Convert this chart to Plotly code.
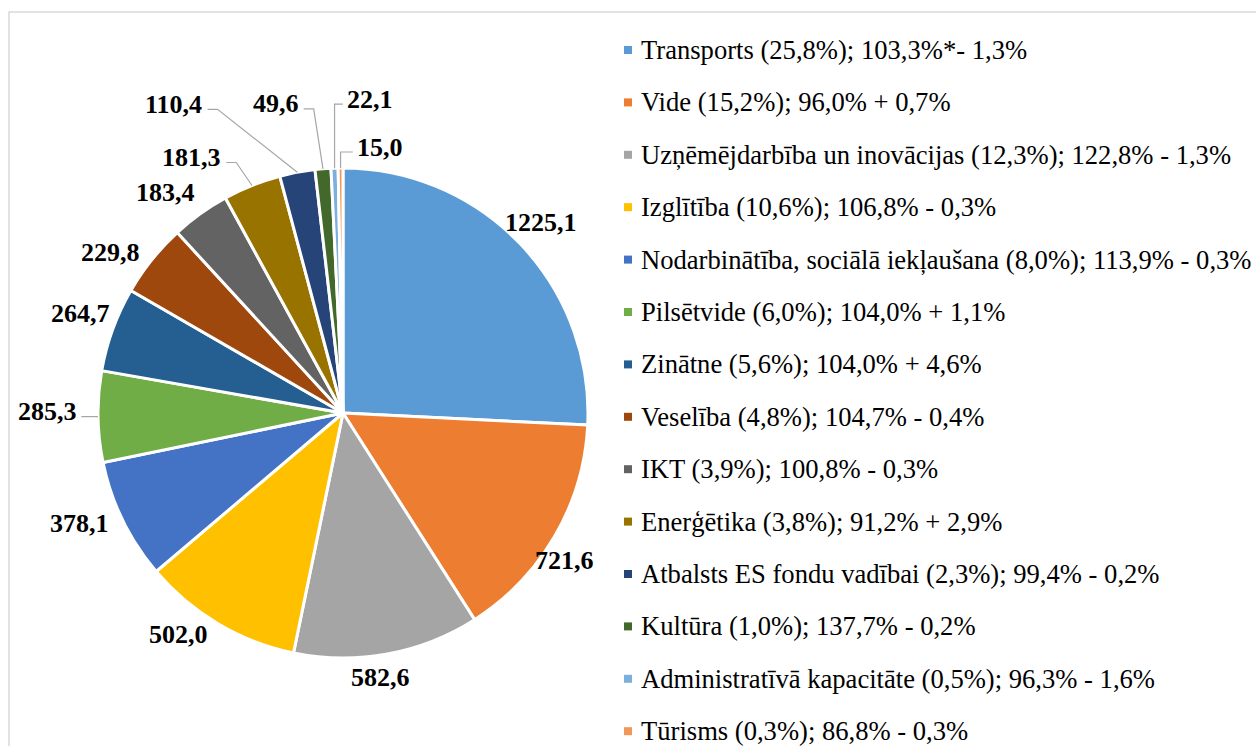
import math
import plotly.graph_objects as go

# ---------------- data ----------------
categories = [
    "Transports", "Vide", "Uzņēmējdarbība un inovācijas", "Izglītība",
    "Nodarbinātība, sociālā iekļaušana", "Pilsētvide", "Zinātne", "Veselība",
    "IKT", "Enerģētika", "Atbalsts ES fondu vadībai", "Kultūra",
    "Administratīvā kapacitāte", "Tūrisms",
]
values = [1225.1, 721.6, 582.6, 502.0, 378.1, 285.3, 264.7, 229.8,
          183.4, 181.3, 110.4, 49.6, 22.1, 15.0]
legend_labels = [
    "Transports (25,8%); 103,3%*- 1,3%",
    "Vide (15,2%); 96,0% + 0,7%",
    "Uzņēmējdarbība un inovācijas (12,3%); 122,8% - 1,3%",
    "Izglītība (10,6%); 106,8% - 0,3%",
    "Nodarbinātība, sociālā iekļaušana (8,0%); 113,9% - 0,3%",
    "Pilsētvide (6,0%); 104,0% + 1,1%",
    "Zinātne (5,6%); 104,0% + 4,6%",
    "Veselība (4,8%); 104,7% - 0,4%",
    "IKT (3,9%); 100,8% - 0,3%",
    "Enerģētika (3,8%); 91,2% + 2,9%",
    "Atbalsts ES fondu vadībai (2,3%); 99,4% - 0,2%",
    "Kultūra (1,0%); 137,7% - 0,2%",
    "Administratīvā kapacitāte (0,5%); 96,3% - 1,6%",
    "Tūrisms (0,3%); 86,8% - 0,3%",
]

# ---------------- style ----------------
colors = ["#5B9BD5", "#ED7D31", "#A5A5A5", "#FFC000", "#4472C4", "#70AD47",
          "#255E91", "#9E480E", "#636363", "#997300", "#264478", "#43682B",
          "#7CAFDD", "#F1975A"]
W, H = 1256, 746
CX, CY, R = 343, 413, 245
FONT = "Liberation Serif"
LABEL_FS = 26
LEGEND_FS = 26.6
# label offsets (px) from slice's outer mid point, and leader-line flag
label_offsets = [(21, -22), (10, 24), (-7, 24), (-40, 11), (-43, 3), (-51, -5),
                 (-32, -16), (-41, -7), (-35, -21), (-60, -28), (-124, -68),
                 (-47, -65), (35, -69), (39, -21)]
leader = [False, False, False, False, False, True, False, False, False, True,
          True, True, True, True]


def px(x):
    return x / W


def py(y):
    return 1 - y / H


def fmt(v):
    return f"{v:.1f}".replace(".", ",")


def text_width(s):
    return sum(0.25 * LABEL_FS if c == "," else 0.5 * LABEL_FS for c in s)


fig = go.Figure()
fig.add_trace(go.Pie(
    values=values, labels=categories, sort=False, direction="clockwise",
    rotation=0, textinfo="none", hoverinfo="label+value",
    marker=dict(colors=colors, line=dict(color="white", width=3)),
    domain=dict(x=[px(CX - R), px(CX + R)], y=[py(CY + R), py(CY - R)]),
    showlegend=False,
))

annotations = []
shapes = []
total = sum(values)
cum = 0.0
for i, v in enumerate(values):
    mid = (cum + v / 2) / total * 2 * math.pi
    cum += v
    ax_ = CX + R * math.sin(mid)
    ay_ = CY - R * math.cos(mid)
    dx, dy = label_offsets[i]
    lx, ly = ax_ + dx, ay_ + dy
    s = fmt(values[i])
    annotations.append(dict(
        x=px(lx), y=py(ly), xref="paper", yref="paper", showarrow=False,
        text=f"<b>{s}</b>", font=dict(family=FONT, size=LABEL_FS, color="black"),
        xanchor="center", yanchor="middle"))
    if leader[i]:
        w = text_width(s)
        yl = ly + 5
        if lx < ax_ - w / 2:
            x0 = lx + w / 2 + 5
            pts = [(x0, yl), (x0 + 10, yl), (ax_, ay_)]
        else:
            x0 = lx - w / 2 - 4
            pts = [(x0, yl), (ax_, yl), (ax_, ay_)]
        path = "M " + " L ".join(f"{px(a):.5f},{py(b):.5f}" for a, b in pts)
        shapes.append(dict(type="path", path=path, xref="paper", yref="paper",
                           line=dict(color="#A6A6A6", width=1.2)))

# legend drawn manually
LEG_Y0, LEG_DY = 50, 52.4
for i, lab in enumerate(legend_labels):
    yc = LEG_Y0 + i * LEG_DY
    shapes.append(dict(type="rect", xref="paper", yref="paper",
                       x0=px(624), x1=px(632), y0=py(yc + 4), y1=py(yc - 4),
                       fillcolor=colors[i], line=dict(width=0)))
    annotations.append(dict(
        x=px(639), y=py(yc), xref="paper", yref="paper", showarrow=False,
        text=lab, font=dict(family=FONT, size=LEGEND_FS, color="black"),
        xanchor="left", yanchor="middle"))

# chart border
shapes.append(dict(type="rect", xref="paper", yref="paper",
                   x0=px(9), x1=px(W + 10), y0=py(H + 10), y1=py(12),
                   line=dict(color="#D9D9D9", width=1.5), fillcolor="rgba(0,0,0,0)"))

fig.update_layout(
    width=W, height=H, margin=dict(l=0, r=0, t=0, b=0),
    paper_bgcolor="white", plot_bgcolor="white",
    annotations=annotations, shapes=shapes,
)

fig.write_html("out.html", config={"displayModeBar": False},
               post_script="document.body.style.margin='0';")
